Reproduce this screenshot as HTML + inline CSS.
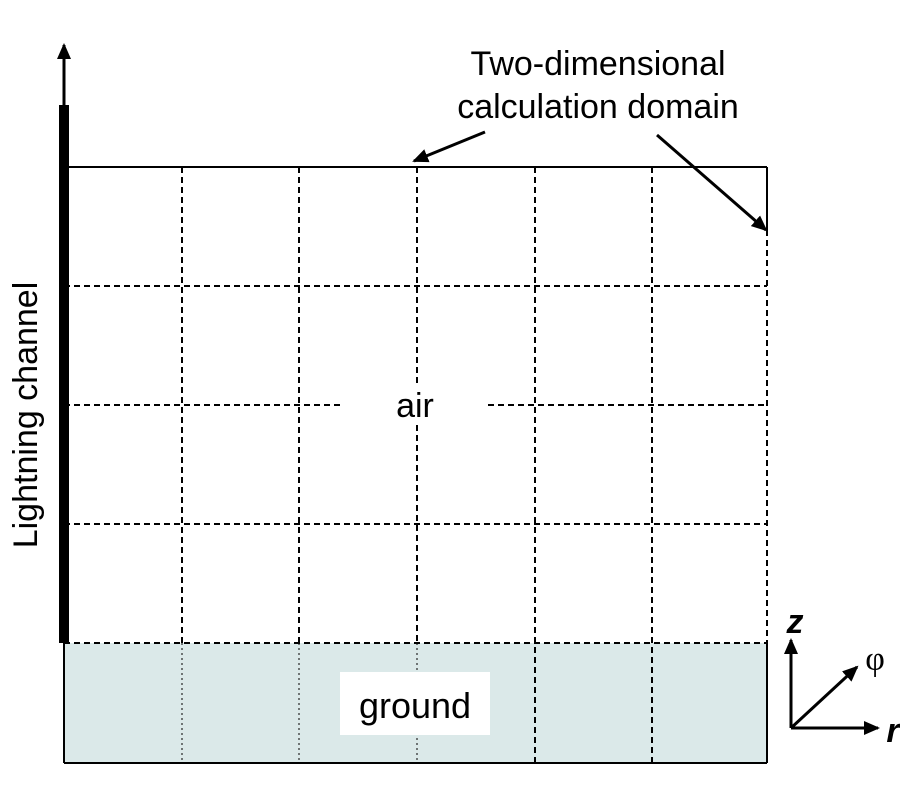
<!DOCTYPE html>
<html><head><style>body{margin:0;background:#fff}</style></head><body>
<svg width="900" height="800" xmlns="http://www.w3.org/2000/svg" font-family="Liberation Sans, sans-serif">
<defs>
<marker id="b" markerWidth="16" markerHeight="14" refX="14" refY="7" orient="auto" markerUnits="userSpaceOnUse"><path d="M0,0 L16,7 L0,14 z" fill="#000"/></marker>
</defs>
<rect x="64" y="643" width="703" height="120" fill="#dbe9e9"/>
<g stroke="#000" stroke-width="2" fill="none">
<line x1="64" y1="167" x2="767" y2="167"/>
<line x1="64" y1="763" x2="767" y2="763"/>
<line x1="64" y1="643" x2="64" y2="763"/>
<line x1="767" y1="167" x2="767" y2="230"/>
<line x1="767" y1="643" x2="767" y2="763"/>
<g stroke-dasharray="6,4">
<line x1="767" y1="230" x2="767" y2="643"/>
<line x1="64" y1="286" x2="767" y2="286"/>
<line x1="64" y1="405" x2="340" y2="405"/>
<line x1="488" y1="405" x2="767" y2="405"/>
<line x1="64" y1="524" x2="767" y2="524"/>
<line x1="64" y1="643" x2="767" y2="643"/>
<line x1="182" y1="167" x2="182" y2="643"/>
<line x1="299" y1="167" x2="299" y2="643"/>
<line x1="417" y1="167" x2="417" y2="385"/>
<line x1="417" y1="425" x2="417" y2="643"/>
<line x1="535" y1="167" x2="535" y2="763"/>
<line x1="652" y1="167" x2="652" y2="763"/>
</g>
<g stroke-dasharray="2,3" stroke-width="1">
<line x1="182" y1="643" x2="182" y2="763"/>
<line x1="299" y1="643" x2="299" y2="763"/>
<line x1="417" y1="643" x2="417" y2="763"/>
</g>
<line x1="64" y1="105" x2="64" y2="45" stroke-width="3" marker-end="url(#b)"/>
<line x1="485" y1="132" x2="414" y2="161" stroke-width="3" marker-end="url(#b)"/>
<line x1="657" y1="135" x2="766" y2="230" stroke-width="3" marker-end="url(#b)"/>
<line x1="791" y1="728" x2="791" y2="640" stroke-width="3" marker-end="url(#b)"/>
<line x1="791" y1="728" x2="878" y2="728" stroke-width="3" marker-end="url(#b)"/>
<line x1="791" y1="728" x2="857" y2="667" stroke-width="3" marker-end="url(#b)"/>
</g>
<rect x="340" y="672" width="150" height="63" fill="#fff"/>
<rect x="59" y="105" width="10" height="538" fill="#000"/>
<g font-size="34" fill="#000" text-anchor="middle">
<text x="598" y="75">Two-dimensional</text>
<text x="598" y="118">calculation domain</text>
<text x="415" y="417">air</text>
<text x="415" y="718" font-size="36">ground</text>
<text transform="translate(37,415) rotate(-90)">Lightning channel</text>
<text x="795" y="633" font-weight="bold" font-style="italic">z</text>
<text x="875" y="670" font-family="Liberation Serif, serif">φ</text>
<text x="893" y="742" font-weight="bold" font-style="italic">r</text>
</g>
</svg>
</body></html>
